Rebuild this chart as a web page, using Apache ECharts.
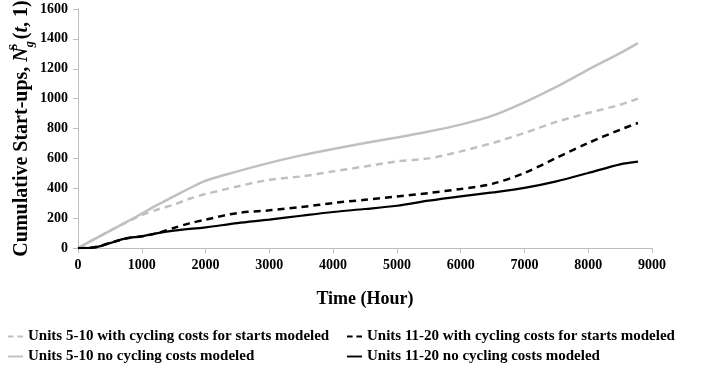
<!DOCTYPE html>
<html>
<head>
<meta charset="utf-8">
<script src="https://cdn.jsdelivr.net/npm/echarts@6/dist/echarts.min.js"></script>
<style>html,body{margin:0;padding:0;background:#fff;}#c{width:701px;height:368px;}</style>
</head>
<body>
<div id="c"></div>
<script>
var hours = [0,250,500,750,1000,1250,1500,1750,2000,2500,3000,3500,4000,4500,5000,5500,6000,6500,7000,7500,8000,8500,8780];
var units5to10Cycling   = [0,58,115,170,220,258,290,330,361,412,457,479,513,546,580,600,647,703,770,844,904,959,1000];
var units11to20Cycling  = [0,5,33,64,78,100,134,165,190,234,252,274,301,323,345,368,395,430,502,603,703,792,837];
var units5to10NoCycling = [0,58,115,172,230,290,345,400,450,513,570,620,663,703,740,780,826,886,975,1078,1194,1305,1372];
var units11to20NoCycling= [0,3,33,64,78,100,116,128,138,167,190,216,241,261,283,317,346,372,402,446,502,560,578];
var xTicks = [0,1000,2000,3000,4000,5000,6000,7000,8000,9000];
var yTicks = [0,200,400,600,800,1000,1200,1400,1600];
var seriesNames = [
  'Units 5-10 with cycling costs for starts modeled',
  'Units 11-20 with cycling costs for starts modeled',
  'Units 5-10 no cycling costs modeled',
  'Units 11-20 no cycling costs modeled'
];

function pairs(ys){ return hours.map(function(h,i){ return [h, ys[i]]; }); }
var FONT = '"Liberation Serif","Times New Roman",serif';
var GRAY = '#c0c0c0';
var DASH_ICON = 'path://M0,0h6v2h-6zM10,0h6v2h-6z';
var SOLID_ICON = 'path://M0,0h16v2h-16z';

function legendItem(idx, left, top, icon){
  return {
    left: left, top: top, padding: 0, orient: 'horizontal', itemWidth: 15, itemHeight: 2.5, itemGap: 0,
    data: [{name: seriesNames[idx], icon: icon}],
    textStyle: {fontFamily: FONT, fontWeight: 'bold', fontSize: 15, color: '#000'}
  };
}

var chart = echarts.init(document.getElementById('c'));
chart.setOption({
  animation: false,
  backgroundColor: '#fff',
  grid: {left: 78, right: 49, top: 9, bottom: 120, containLabel: false, outerBoundsMode: 'none'},
  xAxis: {
    type: 'value', min: xTicks[0], max: xTicks[xTicks.length-1], interval: 1000,
    name: 'Time (Hour)', nameLocation: 'middle', nameGap: 42, nameMoveOverlap: false,
    nameTextStyle: {fontFamily: FONT, fontWeight: 'bold', fontSize: 18, color: '#000'},
    axisLine: {lineStyle: {color: '#bfbfbf', width: 1}},
    axisTick: {show: true, inside: false, length: 5, lineStyle: {color: '#bfbfbf'}},
    axisLabel: {fontFamily: FONT, fontWeight: 'bold', fontSize: 14, color: '#000', margin: 10,
      formatter: function(v){ return String(v); }},
    splitLine: {show: false}
  },
  yAxis: {
    type: 'value', min: yTicks[0], max: yTicks[yTicks.length-1], interval: 200,
    name: '{a|Cumulative Start-ups, }{i|N}{sup|S}{sub|g}{a|(}{i|t}{a|, 1)}',
    nameLocation: 'middle', nameGap: 42, nameRotate: 90, nameMoveOverlap: false,
    nameTextStyle: {
      fontFamily: FONT, fontWeight: 'bold', fontSize: 20, color: '#000',
      rich: {
        a: {fontFamily: FONT, fontWeight: 'bold', fontSize: 20, color: '#000', lineHeight: 28, verticalAlign: 'middle'},
        i: {fontFamily: FONT, fontWeight: 'bold', fontStyle: 'italic', fontSize: 20, color: '#000', lineHeight: 28},
        sup: {fontFamily: FONT, fontWeight: 'bold', fontSize: 12, color: '#000', verticalAlign: 'top', width: 0},
        sub: {fontFamily: FONT, fontWeight: 'bold', fontStyle: 'italic', fontSize: 12, color: '#000', verticalAlign: 'bottom', padding: [0, 2, 0, 0]}
      }
    },
    axisLine: {show: true, lineStyle: {color: '#bfbfbf', width: 1}},
    axisTick: {show: true, inside: false, length: 5, lineStyle: {color: '#bfbfbf'}},
    axisLabel: {fontFamily: FONT, fontWeight: 'bold', fontSize: 14, color: '#000', margin: 10,
      formatter: function(v){ return String(v); }},
    splitLine: {show: false}
  },
  legend: [
    legendItem(0, 8, 329, DASH_ICON),
    legendItem(2, 8, 349, SOLID_ICON),
    legendItem(1, 347, 329, DASH_ICON),
    legendItem(3, 347, 349, SOLID_ICON)
  ],
  series: [
    {name: seriesNames[0], type: 'line', symbol: 'none', smooth: 0.3, data: pairs(units5to10Cycling),
     lineStyle: {color: GRAY, width: 2.5, type: [7, 5]}, itemStyle: {color: GRAY}},
    {name: seriesNames[1], type: 'line', symbol: 'none', smooth: 0.3, data: pairs(units11to20Cycling),
     lineStyle: {color: '#000', width: 2.5, type: [7, 5]}, itemStyle: {color: '#000'}},
    {name: seriesNames[2], type: 'line', symbol: 'none', smooth: 0.3, data: pairs(units5to10NoCycling),
     lineStyle: {color: GRAY, width: 2.5, type: 'solid'}, itemStyle: {color: GRAY}},
    {name: seriesNames[3], type: 'line', symbol: 'none', smooth: 0.3, data: pairs(units11to20NoCycling),
     lineStyle: {color: '#000', width: 2.2, type: 'solid'}, itemStyle: {color: '#000'}}
  ]
});
</script>
</body>
</html>
